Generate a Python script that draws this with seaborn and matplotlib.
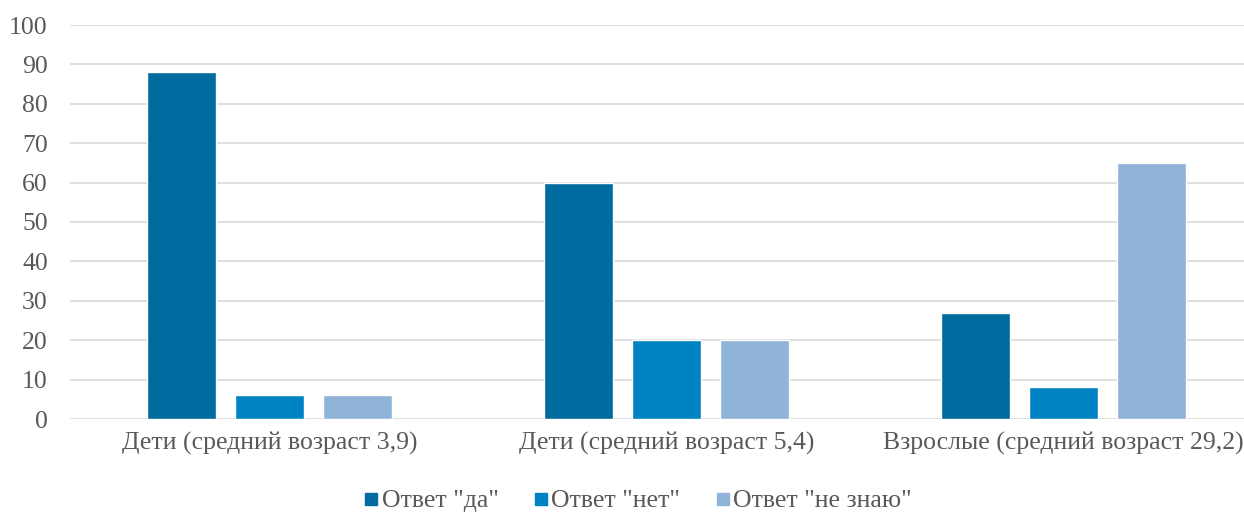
import matplotlib
matplotlib.use("Agg")
import matplotlib.pyplot as plt
import seaborn as sns
import pandas as pd
from matplotlib.lines import Line2D

categories = ["Дети (средний возраст 3,9)", "Дети (средний возраст 5,4)", "Взрослые (средний возраст 29,2)"]
series = ['Ответ "да"', 'Ответ "нет"', 'Ответ "не знаю"']
values_da = [88, 60, 27]
values_net = [6, 20, 8]
values_ne_znayu = [6, 20, 65]
yticks = [0, 10, 20, 30, 40, 50, 60, 70, 80, 90, 100]
colors = ["#006B9F", "#0083C3", "#8FB4D7"]

rows = []
for s, vals in zip(series, [values_da, values_net, values_ne_znayu]):
    for c, v in zip(categories, vals):
        rows.append({"cat": c, "series": s, "val": v})
df = pd.DataFrame(rows)

sns.set_theme(style="white")
plt.rcParams["font.family"] = ["Liberation Serif", "DejaVu Serif"]
text_color = "#595959"

fig = plt.figure(figsize=(12.44, 5.16), dpi=100)
ax = fig.add_axes([70/1244, 97/516, 1 - 70/1244, (419-25)/516])
sns.barplot(data=df, x="cat", y="val", hue="series", order=categories, hue_order=series,
            palette=colors, width=0.665, gap=0.216, ax=ax, legend=False, saturation=1)

ax.set_ylim(0, 100)
ax.set_xlim(-0.503, 2.456)
ax.set_yticks(yticks)
ax.yaxis.grid(True, color="#D9D9D9", linewidth=1.2)
ax.set_axisbelow(True)
for sp in ax.spines.values():
    sp.set_visible(False)
ax.set_xlabel("")
ax.set_ylabel("")
ax.tick_params(axis="both", length=0, labelsize=18.5, colors=text_color)
ax.tick_params(axis="x", pad=9)
ax.tick_params(axis="y", pad=16)

handles = [Line2D([0], [0], marker="s", linestyle="none", markersize=9,
                  markerfacecolor=c, markeredgecolor=c) for c in colors]
fig.legend(handles, series, loc="center", bbox_to_anchor=(637/1244, 1 - 501/516),
           ncol=3, frameon=False, fontsize=18.5, labelcolor=text_color,
           handletextpad=0.05, columnspacing=1.3, handlelength=0.7)

fig.savefig("out.png", dpi=100)
